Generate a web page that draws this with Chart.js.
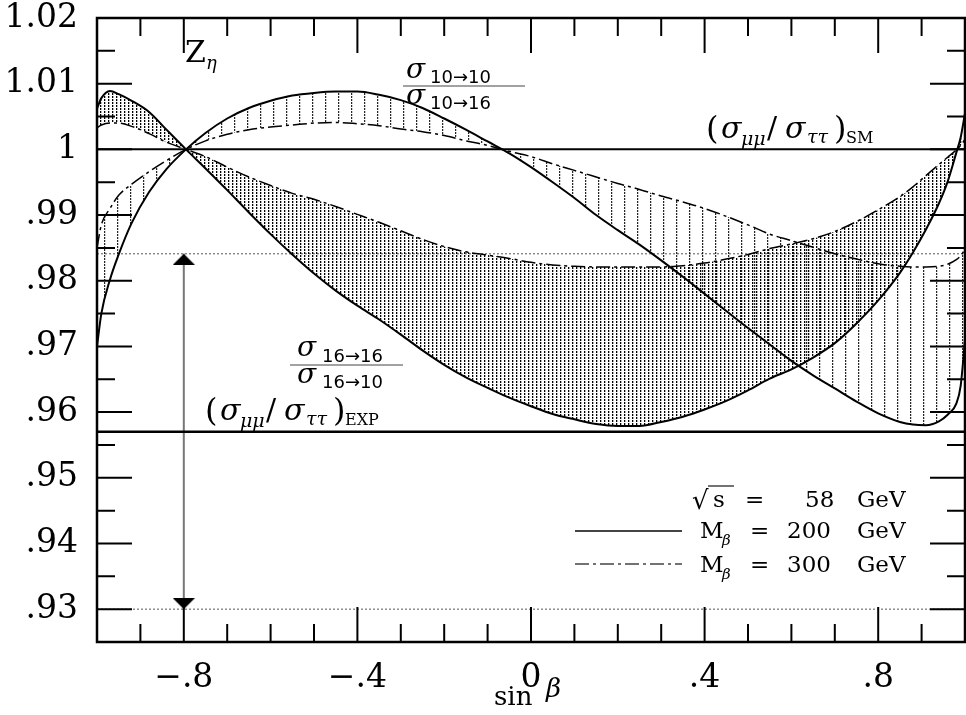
<!DOCTYPE html>
<html><head><meta charset="utf-8">
<script src="https://cdn.jsdelivr.net/npm/chart.js@4/dist/chart.umd.min.js"></script>
<style>html,body{margin:0;padding:0;background:#fff;}canvas{display:block;}</style>
</head><body>
<canvas id="c" width="966" height="715"></canvas>
<script>
// ---- data ----
const sinBeta = [-1, -0.99, -0.97, -0.95, -0.92, -0.88, -0.84, -0.795, -0.75, -0.7, -0.65, -0.6, -0.55, -0.5, -0.45, -0.4, -0.35, -0.3, -0.25, -0.2, -0.15, -0.1, -0.05, 0, 0.05, 0.1, 0.15, 0.2, 0.25, 0.3, 0.35, 0.4, 0.45, 0.5, 0.55, 0.6, 0.65, 0.7, 0.75, 0.8, 0.85, 0.88, 0.91, 0.94, 0.96, 0.98, 0.99, 1.0];
// sigma(10->10)/sigma(10->16)
const r10_M200 = [0.9700, 0.9750, 0.9802, 0.9840, 0.9888, 0.9935, 0.9970, 1.0000, 1.0025, 1.0047, 1.0063, 1.0074, 1.0082, 1.0086, 1.0088, 1.0088, 1.0083, 1.0075, 1.0063, 1.0047, 1.0030, 1.0012, 0.9994, 0.9973, 0.9950, 0.9926, 0.9900, 0.9877, 0.9855, 0.9831, 0.9806, 0.9780, 0.9754, 0.9728, 0.9703, 0.9678, 0.9656, 0.9636, 0.9616, 0.9598, 0.9585, 0.9581, 0.9580, 0.9586, 0.9596, 0.9613, 0.9640, 0.9710];
const r10_M300 = [0.9850, 0.9885, 0.9910, 0.9930, 0.9947, 0.9966, 0.9983, 1.0000, 1.0013, 1.0023, 1.0030, 1.0034, 1.0037, 1.0040, 1.0041, 1.0039, 1.0036, 1.0031, 1.0027, 1.0021, 1.0013, 1.0006, 0.9997, 0.9989, 0.9978, 0.9968, 0.9958, 0.9948, 0.9939, 0.9929, 0.9920, 0.9910, 0.9898, 0.9885, 0.9871, 0.9861, 0.9851, 0.9841, 0.9833, 0.9826, 0.9822, 0.9821, 0.9821, 0.9822, 0.9825, 0.9832, 0.9838, 0.9848];
// sigma(16->16)/sigma(16->10)
const r16_M200 = [1.0062, 1.0078, 1.0089, 1.0084, 1.0074, 1.0057, 1.0030, 1.0000, 0.9971, 0.9938, 0.9904, 0.9871, 0.9840, 0.9811, 0.9785, 0.9762, 0.9741, 0.9718, 0.9694, 0.9672, 0.9653, 0.9637, 0.9622, 0.9609, 0.9597, 0.9589, 0.9582, 0.9579, 0.9579, 0.9585, 0.9593, 0.9604, 0.9617, 0.9633, 0.9651, 0.9665, 0.9683, 0.9705, 0.9735, 0.9770, 0.9812, 0.9843, 0.9878, 0.9918, 0.9951, 0.9995, 1.0018, 1.0055];
const r16_M300 = [1.0033, 1.0037, 1.0040, 1.0040, 1.0035, 1.0024, 1.0011, 1.0000, 0.9989, 0.9973, 0.9958, 0.9945, 0.9933, 0.9924, 0.9913, 0.9901, 0.9889, 0.9876, 0.9863, 0.9852, 0.9844, 0.9839, 0.9834, 0.9828, 0.9824, 0.9822, 0.9821, 0.9821, 0.9821, 0.9821, 0.9823, 0.9827, 0.9833, 0.9840, 0.9849, 0.9856, 0.9864, 0.9875, 0.9890, 0.9908, 0.9928, 0.9943, 0.9960, 0.9977, 0.9988, 0.9999, 1.0006, 1.0015];
const smRatio = [1.0, 1.0];
const expRatio = [0.957, 0.957];
const bandTop = [0.9841, 0.9841];
const bandBottom = [0.93, 0.93];
const lineEnds = [-1, 1];
const arrowX = [-0.8, -0.8];
const arrowY = [0.9841, 0.93];
const xMajorLabels = {"-8": "\u2212.8", "-4": "\u2212.4", "0": "0", "4": ".4", "8": ".8"};
const yMajorLabels = {"1020": "1.02", "1010": "1.01", "1000": "1", "990": ".99", "980": ".98", "970": ".97", "960": ".96", "950": ".95", "940": ".94", "930": ".93"};

const pts = (xs, ys) => xs.map((x, i) => ({x, y: ys[i]}));

const canvas = document.getElementById('c');
const cctx = canvas.getContext('2d');
function makePattern(w, h, draw) {
  const c = document.createElement('canvas'); c.width = w; c.height = h;
  draw(c.getContext('2d')); return cctx.createPattern(c, 'repeat');
}
const densePattern = makePattern(4, 3, g => {
  g.fillStyle = '#000'; g.fillRect(0, 0, 1, 2);
  g.fillStyle = 'rgba(0,0,0,0.3)'; g.fillRect(1, 0, 1, 2);
});
const sparsePattern = makePattern(13, 3, g => {
  g.fillStyle = 'rgba(0,0,0,0.85)'; g.fillRect(0, 0, 1, 2);
  g.fillStyle = 'rgba(0,0,0,0.2)'; g.fillRect(1, 0, 1, 2);
});
function head(up) {
  const c = document.createElement('canvas'); c.width = 22; c.height = 22;
  const g = c.getContext('2d'); g.fillStyle = '#000'; g.beginPath();
  if (up) { g.moveTo(11, 11); g.lineTo(0, 22); g.lineTo(22, 22); }
  else { g.moveTo(11, 11); g.lineTo(0, 0); g.lineTo(22, 0); }
  g.closePath(); g.fill(); return c;
}
const DASHDOT = [14, 4, 3, 4];

const curveBase = {pointRadius: 0, cubicInterpolationMode: 'monotone', borderColor: '#000'};

const frameTicks = {
  id: 'frameTicks',
  afterDatasetsDraw(chart) {
    const ctx = chart.ctx, a = chart.chartArea, xs = chart.scales.x, ys = chart.scales.y;
    ctx.save(); ctx.strokeStyle = '#000'; ctx.lineWidth = 2;
    ctx.beginPath();
    xs.ticks.forEach(t => {
      const p = xs.getPixelForValue(t.value);
      const L = (t.label !== '') ? 35 : 18;
      ctx.moveTo(p, a.bottom); ctx.lineTo(p, a.bottom - L);
      ctx.moveTo(p, a.top); ctx.lineTo(p, a.top + L);
    });
    ys.ticks.forEach(t => {
      const p = ys.getPixelForValue(t.value);
      const L = (t.label !== '') ? 35 : 18;
      ctx.moveTo(a.left, p); ctx.lineTo(a.left + L, p);
      ctx.moveTo(a.right, p); ctx.lineTo(a.right - L, p);
    });
    ctx.stroke();
    ctx.lineWidth = 2.5;
    ctx.strokeRect(a.left, a.top, a.right - a.left, a.bottom - a.top);
    ctx.restore();
  },
  afterDraw(chart) {
    const ctx = chart.ctx;
    ctx.save(); ctx.fillStyle = '#000'; ctx.textBaseline = 'alphabetic'; ctx.textAlign = 'left';
    const T = (s, x, y, f) => { ctx.font = f; ctx.fillText(s, x, y); };
    const SER = 'DejaVu Serif', SANS = 'DejaVu Sans';
    // Z_eta
    T('Z', 185, 62, '30px ' + SER); T('\u03b7', 206, 69, 'italic 18px ' + SER);
    // fraction 1
    T('\u03c3', 406, 78, 'italic 28px ' + SER); T('10\u219210', 430, 83, '18px ' + SANS);
    T('\u03c3', 406, 104, 'italic 28px ' + SER); T('10\u219216', 430, 109, '18px ' + SANS);
    ctx.strokeStyle = '#444'; ctx.lineWidth = 1;
    ctx.beginPath(); ctx.moveTo(403, 86); ctx.lineTo(525, 86); ctx.stroke();
    // fraction 2
    T('\u03c3', 297, 356, 'italic 28px ' + SER); T('16\u219216', 322, 362, '18px ' + SANS);
    T('\u03c3', 297, 383, 'italic 28px ' + SER); T('16\u219210', 322, 388, '18px ' + SANS);
    ctx.beginPath(); ctx.moveTo(290, 365); ctx.lineTo(403, 365); ctx.stroke();
    // ratio labels
    function ratio(x0, y0, sub, subSize) {
      T('(', x0, y0 + 1, '32px ' + SER);
      T('\u03c3', x0 + 15, y0, 'italic 30px ' + SER);
      T('\u03bc\u03bc', x0 + 35, y0 + 7, 'italic 19px ' + SER);
      T('/', x0 + 61, y0, '30px ' + SER);
      T('\u03c3', x0 + 79, y0, 'italic 30px ' + SER);
      T('\u03c4\u03c4', x0 + 101, y0 + 5, 'italic 19px ' + SER);
      T(')', x0 + 128, y0 + 1, '32px ' + SER);
      T(sub, x0 + 140, y0 + 5, subSize + 'px ' + SER);
    }
    ratio(706, 138, 'SM', 16);
    ratio(205, 420, 'EXP', 16);
    // legend
    const LF = '23px ' + SER;
    T('\u221a', 692, 509, '26px ' + SER);
    ctx.lineWidth = 1.5; ctx.beginPath(); ctx.moveTo(708, 486); ctx.lineTo(734, 486); ctx.stroke();
    T('s', 713, 507, LF); T('=', 745, 507, LF); T('58', 805, 507, LF); T('GeV', 857, 507, LF);
    T('M', 700, 538, LF); T('\u03b2', 722, 545, 'italic 15px ' + SER); T('=', 750, 538, LF); T('200', 787, 538, LF); T('GeV', 857, 538, LF);
    T('M', 700, 572, LF); T('\u03b2', 722, 579, 'italic 15px ' + SER); T('=', 750, 572, LF); T('300', 787, 572, LF); T('GeV', 857, 572, LF);
    ctx.lineWidth = 2; ctx.beginPath(); ctx.moveTo(575, 531); ctx.lineTo(682, 531); ctx.stroke();
    ctx.lineWidth = 1.5; ctx.setLineDash(DASHDOT); ctx.beginPath(); ctx.moveTo(575, 564); ctx.lineTo(682, 564); ctx.stroke(); ctx.setLineDash([]);
    // axis title
    T('sin', 494, 705, '26px ' + SER); T('\u03b2', 546, 697, 'italic 26px ' + SER);
    ctx.restore();
  }
};

new Chart(canvas, {
  type: 'line',
  data: {
    datasets: [
      Object.assign({data: pts(sinBeta, r10_M200), borderWidth: 2, fill: '+1', backgroundColor: sparsePattern}, curveBase),
      Object.assign({data: pts(sinBeta, r10_M300), borderWidth: 1.5, borderDash: DASHDOT, fill: false}, curveBase),
      Object.assign({data: pts(sinBeta, r16_M200), borderWidth: 2, fill: '+1', backgroundColor: densePattern}, curveBase),
      Object.assign({data: pts(sinBeta, r16_M300), borderWidth: 1.5, borderDash: DASHDOT, fill: false}, curveBase),
      {data: pts(lineEnds, smRatio), borderColor: '#000', borderWidth: 2, pointRadius: 0, fill: false},
      {data: pts(lineEnds, expRatio), borderColor: '#000', borderWidth: 2.5, pointRadius: 0, fill: false},
      {data: pts(lineEnds, bandTop), borderColor: '#555', borderWidth: 1, borderDash: [2, 2], pointRadius: 0, fill: false},
      {data: pts(lineEnds, bandBottom), borderColor: '#555', borderWidth: 1, borderDash: [2, 2], pointRadius: 0, fill: false},
      {data: pts(arrowX, arrowY), borderColor: '#777', borderWidth: 2, pointRadius: 5, pointStyle: [head(true), head(false)], fill: false}
    ]
  },
  options: {
    responsive: false, animation: false, devicePixelRatio: 1,
    layout: {autoPadding: false, padding: {top: 18, right: 1, left: 0, bottom: 0}},
    plugins: {legend: {display: false}, tooltip: {enabled: false}},
    scales: {
      x: {
        type: 'linear', min: -1, max: 1,
        grid: {display: false, drawTicks: false}, border: {display: false},
        afterFit: s => { s.height = 73; s.paddingLeft = 0; s.paddingRight = 0; },
        ticks: {
          stepSize: 0.1, autoSkip: false, maxRotation: 0, padding: 20, color: '#000',
          font: {family: 'DejaVu Serif', size: 33, lineHeight: 1.0},
          callback: v => { const k = Math.round(v * 10); return xMajorLabels[String(k)] !== undefined && Math.abs(k) < 10 ? xMajorLabels[String(k)] : ''; }
        }
      },
      y: {
        type: 'linear', min: 0.925, max: 1.02,
        grid: {display: false, drawTicks: false}, border: {display: false},
        afterFit: s => { s.width = 97; s.paddingTop = 0; s.paddingBottom = 0; },
        ticks: {
          stepSize: 0.005, autoSkip: false, padding: 19, color: '#000',
          font: {family: 'DejaVu Serif', size: 33, lineHeight: 1.0},
          callback: v => { const k = Math.round(v * 1000); return yMajorLabels[String(k)] || ''; }
        }
      }
    }
  },
  plugins: [frameTicks]
});
</script>
</body></html>
